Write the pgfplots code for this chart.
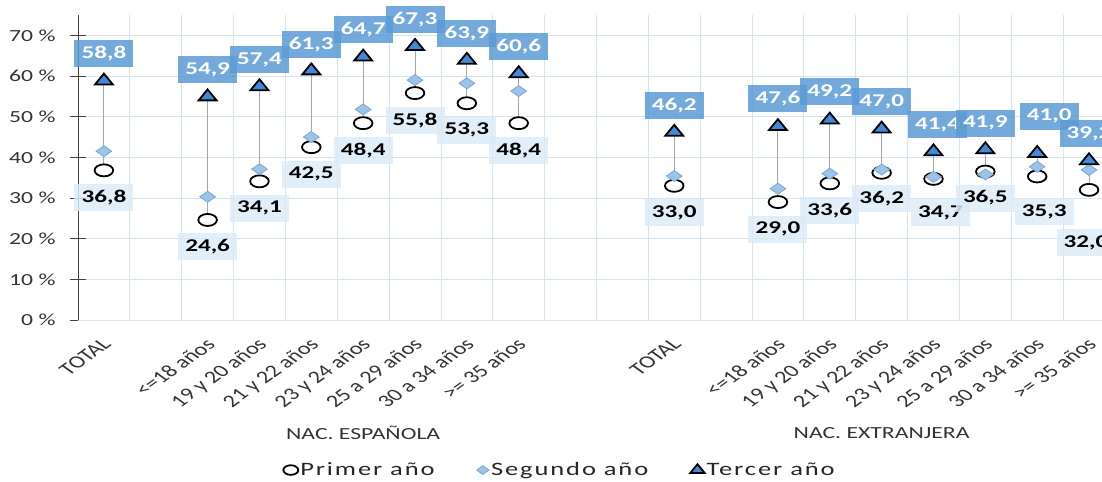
\documentclass[border=0pt]{standalone}
\usepackage{pgfplots}
\pgfplotsset{compat=1.18}
\usepackage{pgfplotstable}
\usepackage{fontspec}
\setmainfont[FakeStretch=1.4]{Carlito}
\newfontfamily\lblfont[FakeStretch=1.4]{Carlito}
\newfontfamily\plainfont{Carlito}
\newfontfamily\legfont[FakeStretch=1.4,LetterSpace=10]{Carlito}
\definecolor{gridc}{HTML}{D6E3F1}
\definecolor{tri}{HTML}{4389D6}
\definecolor{dia}{HTML}{9DC3E6}
\definecolor{diab}{HTML}{7BA7D7}
\definecolor{boxhi}{HTML}{5B9BD5}
\definecolor{boxlo}{HTML}{DDEBF7}
\definecolor{hl}{HTML}{A6A6A6}

\pgfplotstableread{
x p s t pl tl pdx pdy tdx tdy
0 36.8 41.5 58.8 36,8 58,8 0 -27 0 27
2 24.6 30.3 54.9 24,6 54,9 0 -27 0 27
3 34.1 37.1 57.4 34,1 57,4 0 -27 0 27
4 42.5 45.0 61.3 42,5 61,3 0 -27 0 26
5 48.4 51.8 64.7 48,4 64,7 0 -27 0 27
6 55.8 59.0 67.3 55,8 67,3 0 -27 0 27
7 53.3 58.2 63.9 53,3 63,9 0 -27 0 27
8 48.4 56.3 60.6 48,4 60,6 0 -27 0 27
11 33.0 35.4 46.2 33,0 46,2 0 -27 0 27
13 29.0 32.3 47.6 29,0 47,6 0 -27 0 27.5
14 33.6 36.0 49.2 33,6 49,2 0 -27 0 28
15 36.2 37.0 47.0 36,2 47,0 0 -26 0 27
16 34.7 35.2 41.4 34,7 41,4 7 -34 4 27
17 36.5 35.8 41.9 36,5 41,9 0 -26.5 0 26.5
18 35.3 37.7 41.0 35,3 41,0 7 -35.5 12 37
19 32.0 36.9 39.2 32,0 39,2 -3 -53 0 27
}\data

\begin{document}
\begin{tikzpicture}
\begin{axis}[
  at={(78bp,162bp)}, anchor=south west, scale only axis,
  width=1024bp, height=305bp,
  xmin=-0.5, xmax=19.25, ymin=0, ymax=75,
  clip=false,
  axis lines*=left,
  x axis line style={draw=gridc, line width=1pt},
  y axis line style={draw=black!75, line width=1pt},
  ytick={0,10,...,70},
  yticklabel={\pgfmathprintnumber{\tick}\ \%},
  /pgf/number format/assume math mode=true,
  ymajorgrids, major grid style={draw=gridc, line width=0.8pt},
  minor xtick={0.5,1.5,...,18.5}, xminorgrids, minor grid style={draw=gridc, line width=0.8pt},
  minor tick length=0pt,
  xtick={0,2,3,4,5,6,7,8,11,13,14,15,16,17,18,19},
  xticklabels={TOTAL,<=18 años,19 y 20 años,21 y 22 años,23 y 24 años,25 a 29 años,30 a 34 años,>= 35 años,TOTAL,<=18 años,19 y 20 años,21 y 22 años,23 y 24 años,25 a 29 años,30 a 34 años,>= 35 años},
  xtick style={draw=none},
  ytick style={draw=black!75, line width=1pt},
  major tick length=16bp, tick align=center,
  tick label style={font=\fontsize{17}{19}\selectfont, text=black!80},
  yticklabel shift=11bp,
  xticklabel shift=9bp,
  xticklabel style={xshift=-3bp, cm={0.99,0.7071,-0.99,0.7071,(0,0)}, anchor=north east,
    inner sep=0pt, font=\plainfont\fontsize{17.5}{19}\selectfont},
  legend columns=3,
  legend style={at={(0.4707,-0.492)}, anchor=center, draw=none, fill=none,
    font=\legfont\fontsize{19}{21}\selectfont, text=black!85,
    /tikz/every even column/.append style={column sep=40bp}},
  legend cell align=left,
  legend image post style={scale=0.8},
]
\addplot[forget plot, draw=none, mark=none,
  error bars/.cd, y dir=plus, y explicit, error mark=none,
  error bar style={draw=hl, line width=1pt}]
  table[x=x, y=p, y error expr=\thisrow{t}-\thisrow{p}] {\data};

\addplot[only marks, mark=*, mark size=6bp,
  mark options={xscale=1.55, fill=white, draw=black, line width=1.8pt}]
  table[x=x, y=p] {\data};
\addplot[only marks, mark=diamond*, mark size=5.5bp,
  mark options={xscale=1.9, fill=dia, draw=diab, line width=0.8pt}]
  table[x=x, y=s] {\data};
\addplot[only marks, mark=triangle*, mark size=7.3bp,
  mark options={xscale=1.42, fill=tri, draw=black, line width=1.8pt}]
  table[x=x, y=t] {\data};
\legend{Primer año, Segundo año, Tercer año}

\addplot[forget plot, draw=none, mark=none, nodes near coords, point meta=explicit symbolic,
  visualization depends on={\thisrow{pdx}\as\ldx},
  visualization depends on={\thisrow{pdy}\as\ldy},
  every node near coord/.append style={anchor=center, xshift=\ldx*1bp, yshift=\ldy*1bp,
    fill=boxlo, fill opacity=0.85, text opacity=1, text=black,
    font=\lblfont\bfseries\fontsize{18}{20}\selectfont,
    minimum width=59bp, minimum height=27bp, inner sep=0pt}]
  table[x=x, y=p, meta=pl] {\data};

\addplot[forget plot, draw=none, mark=none, nodes near coords, point meta=explicit symbolic,
  visualization depends on={\thisrow{tdx}\as\mdx},
  visualization depends on={\thisrow{tdy}\as\mdy},
  every node near coord/.append style={anchor=center, xshift=\mdx*1bp, yshift=\mdy*1bp,
    fill=boxhi, fill opacity=0.85, text opacity=1, text=white,
    font=\lblfont\bfseries\fontsize{18}{20}\selectfont,
    minimum width=59bp, minimum height=27bp, inner sep=0pt}]
  table[x=x, y=t, meta=tl] {\data};

\node[font=\fontsize{17}{19}\selectfont, text=black!80] at ([yshift=-113bp]axis cs:5,0) {NAC. ESPAÑOLA};
\node[font=\fontsize{17}{19}\selectfont, text=black!80] at ([yshift=-113bp]axis cs:15,0) {NAC. EXTRANJERA};
\end{axis}
\pgfresetboundingbox
\path[use as bounding box] (0,0) rectangle (1102bp,482bp);
\end{tikzpicture}
\end{document}
